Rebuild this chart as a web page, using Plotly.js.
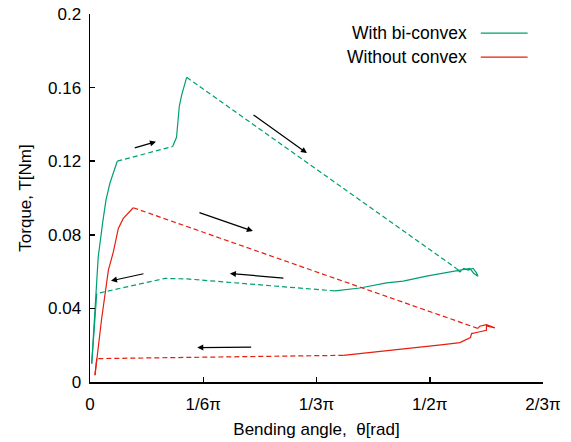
<!DOCTYPE html>
<html>
<head>
<meta charset="utf-8">
<script src="https://cdn.plot.ly/plotly-3.0.1.min.js"></script>
<style>html,body{margin:0;padding:0;background:#fff;}#chart{width:571px;height:442px;}</style>
</head>
<body>
<div id="chart"></div>
<script>
// ---- Data (x in rad, y in Nm) ----
const seriesNames = ["With bi-convex", "Without convex"];
const seriesColors = ["#009e73", "#e51e10"];

// With bi-convex
const gLoad1X = [0.008, 0.015, 0.028, 0.038, 0.059, 0.074, 0.092, 0.126];
const gLoad1Y = [0.010, 0.0245, 0.048, 0.068, 0.087, 0.099, 0.108, 0.120];
const gLoad2X = [0.126, 0.382];
const gLoad2Y = [0.120, 0.128];
const gLoad3X = [0.382, 0.400, 0.413, 0.424, 0.447];
const gLoad3Y = [0.128, 0.133, 0.150, 0.156, 0.1656];
const gUnloadX = [0.447, 1.694];
const gUnloadY = [0.1656, 0.0617];
const gRet1X = [1.694, 1.710, 1.728, 1.748, 1.771, 1.787, 1.794, 1.775, 1.756, 1.725, 1.679, 1.600, 1.556, 1.448, 1.371, 1.248, 1.132];
const gRet1Y = [0.0617, 0.0598, 0.0617, 0.0608, 0.0617, 0.0593, 0.0575, 0.0590, 0.0617, 0.0611, 0.0598, 0.0585, 0.0575, 0.0548, 0.0539, 0.0511, 0.0495];
const gRet2X = [1.132, 0.809, 0.450, 0.347, 0.031];
const gRet2Y = [0.0495, 0.0526, 0.0560, 0.0563, 0.0481];
const gRet3X = [0.031, 0.008];
const gRet3Y = [0.0481, 0.010];

// Without convex
const rLoadX = [0.023, 0.054, 0.085, 0.108, 0.131, 0.154, 0.200];
const rLoadY = [0.0037, 0.0345, 0.0608, 0.0707, 0.0835, 0.0889, 0.0947];
const rUnloadX = [0.200, 1.794];
const rUnloadY = [0.0947, 0.0291];
const rRet1X = [1.794, 1.802, 1.833, 1.872, 1.833, 1.833, 1.787, 1.764, 1.759, 1.725, 1.710, 1.633, 1.433, 1.171];
const rRet1Y = [0.0291, 0.0303, 0.0312, 0.0294, 0.0305, 0.0281, 0.0269, 0.0263, 0.0242, 0.0223, 0.0214, 0.0203, 0.0178, 0.0145];
const rRet2X = [1.171, 0.508, 0.031];
const rRet2Y = [0.0145, 0.0133, 0.0127];
const rRet3X = [0.031, 0.023];
const rRet3Y = [0.0127, 0.0037];

// Direction arrows: [tailX, tailY, headX, headY]
const arrows = [
  [0.200, 0.127, 0.305, 0.1306],
  [0.749, 0.1457, 1.003, 0.1244],
  [0.499, 0.0923, 0.753, 0.0820],
  [0.254, 0.059, 0.097, 0.055],
  [0.901, 0.0564, 0.647, 0.059],
  [0.752, 0.019, 0.496, 0.0187]
];

// Axis ticks
const PI = Math.PI;
const xTickVals = [0, PI/6, PI/3, PI/2, 2*PI/3];
const xTickText = ["0", "1/6\u03c0", "1/3\u03c0", "1/2\u03c0", "2/3\u03c0"];
const yTickVals = [0, 0.04, 0.08, 0.12, 0.16, 0.2];
const yTickText = ["0", "0.04", "0.08", "0.12", "0.16", "0.2"];

// ---- Build traces ----
function seg(x, y, ci, dashed) {
  return {
    x: x, y: y, type: 'scatter', mode: 'lines', showlegend: false,
    hoverinfo: 'skip',
    line: {color: seriesColors[ci], width: 1.2, dash: dashed ? '5px,3px' : 'solid'}
  };
}
const traces = [
  seg(gLoad1X, gLoad1Y, 0, false),
  seg(gLoad2X, gLoad2Y, 0, true),
  seg(gLoad3X, gLoad3Y, 0, false),
  seg(gUnloadX, gUnloadY, 0, true),
  seg(gRet1X, gRet1Y, 0, false),
  seg(gRet2X, gRet2Y, 0, true),
  seg(gRet3X, gRet3Y, 0, false),
  seg(rLoadX, rLoadY, 1, false),
  seg(rUnloadX, rUnloadY, 1, true),
  seg(rRet1X, rRet1Y, 1, false),
  seg(rRet2X, rRet2Y, 1, true),
  seg(rRet3X, rRet3Y, 1, false)
];

const fontFam = 'Liberation Sans, Arial, sans-serif';
const annotations = arrows.map(a => ({
  x: a[2], y: a[3], ax: a[0], ay: a[1],
  xref: 'x', yref: 'y', axref: 'x', ayref: 'y',
  text: '', showarrow: true, arrowhead: 2, arrowsize: 1, arrowwidth: 1.2,
  arrowcolor: '#000', standoff: 0, startstandoff: 0
}));

// Custom legend (text left, line sample right)
const legendY = [0.948, 0.883];
const shapes = [];
seriesNames.forEach((n, i) => {
  annotations.push({
    xref: 'paper', yref: 'paper', x: 0.836, y: legendY[i],
    xanchor: 'right', yanchor: 'middle', showarrow: false,
    text: n, font: {family: fontFam, size: 17.5, color: '#000'}
  });
  shapes.push({
    type: 'line', xref: 'paper', yref: 'paper',
    x0: 0.8626, x1: 0.966, y0: legendY[i], y1: legendY[i],
    line: {color: seriesColors[i], width: 1.2}
  });
});

const layout = {
  width: 571, height: 442,
  margin: {l: 90, r: 28, t: 14, b: 60},
  paper_bgcolor: '#fff', plot_bgcolor: '#fff',
  font: {family: fontFam, size: 17, color: '#000'},
  showlegend: false,
  xaxis: {
    range: [0, 2*PI/3], tickvals: xTickVals, ticktext: xTickText,
    showgrid: false, zeroline: false, showline: true, linecolor: '#000', linewidth: 1.5,
    ticks: 'inside', ticklen: 5, tickwidth: 1.5, tickcolor: '#000',
    ticklabelstandoff: 6,
    title: {text: 'Bending angle, \u00a0\u03b8[rad]', font: {size: 17}, standoff: 10}
  },
  yaxis: {
    range: [0, 0.2], tickvals: yTickVals, ticktext: yTickText,
    showgrid: false, zeroline: false, showline: true, linecolor: '#000', linewidth: 1.5,
    ticks: 'inside', ticklen: 5, tickwidth: 1.5, tickcolor: '#000',
    ticklabelstandoff: 4,
    title: {text: 'Torque, T[Nm]', font: {size: 17}, standoff: 12}
  },
  annotations: annotations,
  shapes: shapes
};

Plotly.newPlot('chart', traces, layout, {displayModeBar: false, staticPlot: true});
</script>
</body>
</html>
